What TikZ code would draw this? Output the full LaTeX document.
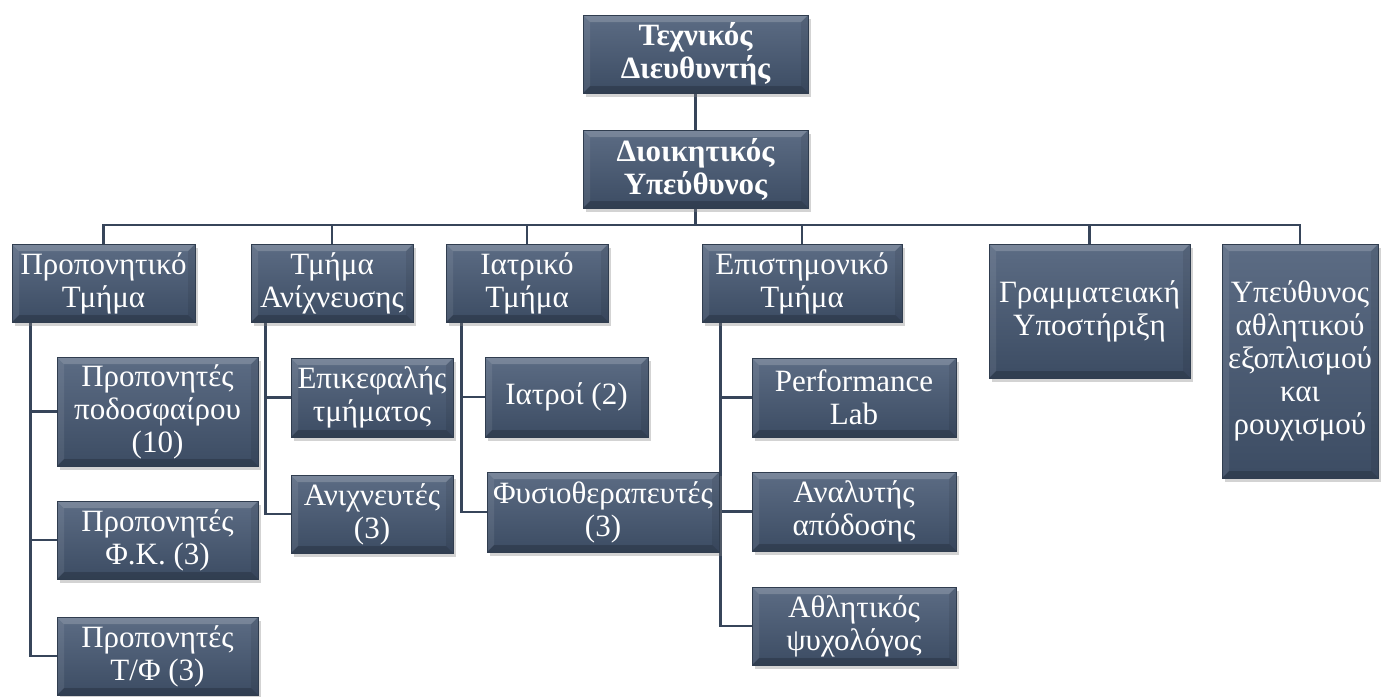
\documentclass[tikz,border=0pt]{standalone}
\usepackage{fontspec}
\setmainfont{Liberation Serif}
\newfontfamily\boxfont{Liberation Serif}
\usetikzlibrary{shadows,backgrounds}
\definecolor{boxtop}{RGB}{92,108,132}
\definecolor{boxbot}{RGB}{60,76,99}
\definecolor{linecol}{RGB}{55,69,90}
\tikzset{
    unit/.style={draw=boxbot!80!black, line width=0.6pt, top color=boxtop, bottom color=boxbot,
        text=white, align=center, inner sep=1pt, font=\boxfont\fontsize{31}{33}\selectfont,
        drop shadow={opacity=0.35, shadow xshift=3pt, shadow yshift=-4pt},
        path picture={
            \fill[white, opacity=0.18] (path picture bounding box.north west) -- (path picture bounding box.north east)
                -- ([xshift=-7pt,yshift=-7pt]path picture bounding box.north east) -- ([xshift=7pt,yshift=-7pt]path picture bounding box.north west) -- cycle;
            \fill[white, opacity=0.08] (path picture bounding box.north west) -- (path picture bounding box.south west)
                -- ([xshift=7pt,yshift=7pt]path picture bounding box.south west) -- ([xshift=7pt,yshift=-7pt]path picture bounding box.north west) -- cycle;
            \fill[black, opacity=0.08] (path picture bounding box.north east) -- (path picture bounding box.south east)
                -- ([xshift=-7pt,yshift=7pt]path picture bounding box.south east) -- ([xshift=-7pt,yshift=-7pt]path picture bounding box.north east) -- cycle;
            \fill[black, opacity=0.18] (path picture bounding box.south west) -- (path picture bounding box.south east)
                -- ([xshift=-7pt,yshift=7pt]path picture bounding box.south east) -- ([xshift=7pt,yshift=7pt]path picture bounding box.south west) -- cycle;
        }},
    head/.style={unit, font=\boxfont\fontsize{31}{33}\selectfont\bfseries},
    link/.style={draw=linecol, line width=2.6pt}
}
\begin{document}
\begin{tikzpicture}[x=1pt, y=-1pt]
    \useasboundingbox (0,0) rectangle (1381,696);
    % Management
    \node[head, minimum width=225, minimum height=78] (tech) at (695.5,54) {Τεχνικός\\Διευθυντής};
    \node[head, minimum width=225, minimum height=78] (admin) at (695.5,169) {Διοικητικός\\Υπεύθυνος};
    \coordinate (bus) at (695.5,225);
    % Departments
    \node[unit, minimum width=183, minimum height=78] (coach) at (103.5,283) {Προπονητικό\\Τμήμα};
    \node[unit, minimum width=162, minimum height=78] (scout) at (332,283) {Τμήμα\\Ανίχνευσης};
    \node[unit, minimum width=162, minimum height=78] (med) at (527,283) {Ιατρικό\\Τμήμα};
    \node[unit, minimum width=200, minimum height=78] (sci) at (802,283) {Επιστημονικό\\Τμήμα};
    \node[unit, minimum width=201, minimum height=134] (secr) at (1089.5,311) {Γραμματειακή\\Υποστήριξη};
    \node[unit, minimum width=156, minimum height=234] (kit) at (1300,361) {Υπεύθυνος\\αθλητικού\\εξοπλισμού\\και\\ρουχισμού};
    % Staff
    \node[unit, minimum width=201, minimum height=109] (coach1) at (157.5,411.5) {Προπονητές\\ποδοσφαίρου\\(10)};
    \node[unit, minimum width=201, minimum height=78] (coach2) at (157.5,540) {Προπονητές\\Φ.Κ. (3)};
    \node[unit, minimum width=201, minimum height=78] (coach3) at (157.5,656) {Προπονητές\\Τ/Φ (3)};
    \node[unit, minimum width=162, minimum height=79] (scout1) at (372,397.5) {Επικεφαλής\\τμήματος};
    \node[unit, minimum width=162, minimum height=78] (scout2) at (372,514) {Ανιχνευτές\\(3)};
    \node[unit, minimum width=163, minimum height=80] (med1) at (566.5,397) {Ιατροί (2)};
    \node[unit, minimum width=232, minimum height=80] (med2) at (603,512) {Φυσιοθεραπευτές\\(3)};
    \node[unit, minimum width=204, minimum height=79] (sci1) at (854,397.5) {Performance\\Lab};
    \node[unit, minimum width=204, minimum height=79] (sci2) at (854,511.5) {Αναλυτής\\απόδοσης};
    \node[unit, minimum width=204, minimum height=78] (sci3) at (854,626) {Αθλητικός\\ψυχολόγος};
    % Links
    \begin{pgfonlayer}{background}
        \draw[link] (tech) -- (admin);
        \draw[link] (admin) -- (bus);
        \foreach \dept in {coach, scout, med, sci, secr, kit}
            \draw[link] (bus) -| (\dept.north);
        \foreach \dept/\off/\staff in {coach/19/coach1, coach/19/coach2, coach/19/coach3,
                                       scout/15/scout1, scout/15/scout2,
                                       med/16/med1, med/16/med2,
                                       sci/19/sci1, sci/19/sci2, sci/19/sci3}
            \draw[link] ([xshift=\off pt]\dept.south west) |- (\staff.west);
    \end{pgfonlayer}
\end{tikzpicture}
\end{document}
